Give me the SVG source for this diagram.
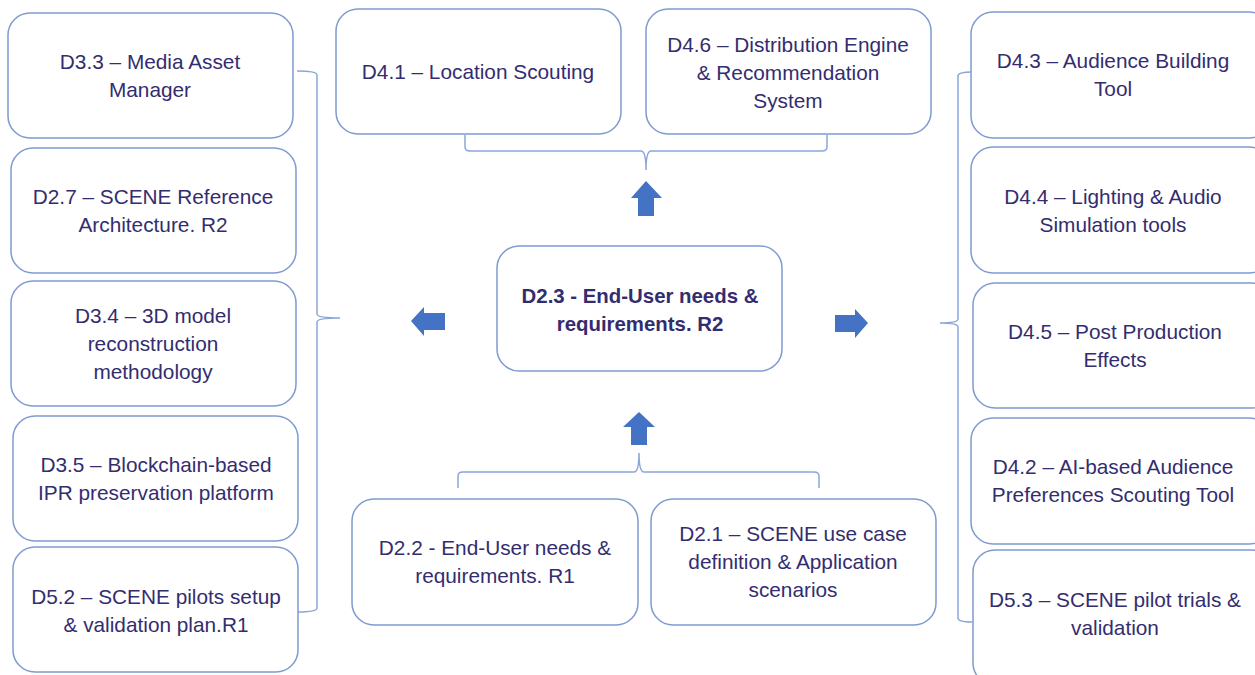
<svg xmlns="http://www.w3.org/2000/svg" width="1255" height="675" viewBox="0 0 1255 675">
<style>
.box{fill:#fff;stroke:#7F9BD0;stroke-width:1.5}
.t{font-family:"Liberation Sans",Arial,sans-serif;font-size:20.8px;fill:#332D6F;text-anchor:middle}
.b{font-weight:bold;font-size:20.4px}
.br{fill:none;stroke:#8AA6DA;stroke-width:1.5}
.ar{fill:#4472C4}
</style>
<rect width="1255" height="675" fill="#fff"/>
<g id="connectors">
<path class="br" d="M297,71 Q317,71 317,75 V314 Q317,318 340,318 Q317,318 317,322 V608 Q317,612 297,612"/>
<path class="br" d="M972,72 Q958,72 958,76 V319 Q958,323 940,323 Q958,323 958,327 V618 Q958,622 972,622"/>
<path class="br" d="M465,135 V147 Q465,151 470,151 H641 Q646,151 646,170 Q646,151 651,151 H822 Q827,151 827,147 V135"/>
<path class="br" d="M458,488 V476 Q458,472 463,472 H634 Q639,472 639,453 Q639,472 644,472 H814 Q819,472 819,476 V488"/>
<polygon class="ar" points="646,181 662,198 654,198 654,216 638,216 638,198 631,198"/>
<polygon class="ar" points="639,412 655,427 647,427 647,445 631,445 631,427 623,427"/>
<polygon class="ar" points="411,321 424,307 424,313 445,313 445,330 424,330 424,336"/>
<polygon class="ar" points="868,323 855,309 855,315 835,315 835,332 855,332 855,338"/>
</g>
<g id="d33"><rect class="box" x="8" y="13" width="285" height="125" rx="22"/><text class="t" x="150" y="69">D3.3 – Media Asset</text><text class="t" x="150" y="97">Manager</text></g>
<g id="d27"><rect class="box" x="11" y="148" width="285" height="125" rx="22"/><text class="t" x="153" y="204">D2.7 – SCENE Reference</text><text class="t" x="153" y="232">Architecture. R2</text></g>
<g id="d34"><rect class="box" x="11" y="281" width="285" height="125" rx="22"/><text class="t" x="153" y="323">D3.4 – 3D model</text><text class="t" x="153" y="351">reconstruction</text><text class="t" x="153" y="379">methodology</text></g>
<g id="d35"><rect class="box" x="13" y="416" width="285" height="125" rx="22"/><text class="t" x="156" y="472">D3.5 – Blockchain-based</text><text class="t" x="156" y="500">IPR preservation platform</text></g>
<g id="d52"><rect class="box" x="13" y="547" width="285" height="125" rx="22"/><text class="t" x="156" y="604">D5.2 – SCENE pilots setup</text><text class="t" x="156" y="632">&amp; validation plan.R1</text></g>
<g id="d41"><rect class="box" x="336" y="9" width="285" height="125" rx="22"/><text class="t" x="478" y="79">D4.1 – Location Scouting</text></g>
<g id="d46"><rect class="box" x="646" y="9" width="285" height="125" rx="22"/><text class="t" x="788" y="52">D4.6 – Distribution Engine</text><text class="t" x="788" y="80">&amp; Recommendation</text><text class="t" x="788" y="108">System</text></g>
<g id="d23"><rect class="box" x="497" y="246" width="285" height="125" rx="22"/><text class="t b" x="640" y="303">D2.3 - End-User needs &amp;</text><text class="t b" x="640" y="331">requirements. R2</text></g>
<g id="d22"><rect class="box" x="352" y="499" width="286" height="126" rx="22"/><text class="t" x="495" y="555">D2.2 - End-User needs &amp;</text><text class="t" x="495" y="583">requirements. R1</text></g>
<g id="d21"><rect class="box" x="651" y="499" width="285" height="126" rx="22"/><text class="t" x="793" y="541">D2.1 – SCENE use case</text><text class="t" x="793" y="569">definition &amp; Application</text><text class="t" x="793" y="597">scenarios</text></g>
<g id="d43"><rect class="box" x="971" y="12" width="300" height="126" rx="22"/><text class="t" x="1113" y="68">D4.3 – Audience Building</text><text class="t" x="1113" y="96">Tool</text></g>
<g id="d44"><rect class="box" x="971" y="147" width="300" height="126" rx="22"/><text class="t" x="1113" y="204">D4.4 – Lighting &amp; Audio</text><text class="t" x="1113" y="232">Simulation tools</text></g>
<g id="d45"><rect class="box" x="973" y="283" width="300" height="125" rx="22"/><text class="t" x="1115" y="339">D4.5 – Post Production</text><text class="t" x="1115" y="367">Effects</text></g>
<g id="d42"><rect class="box" x="971" y="418" width="300" height="126" rx="22"/><text class="t" x="1113" y="474">D4.2 – AI-based Audience</text><text class="t" x="1113" y="502">Preferences Scouting Tool</text></g>
<g id="d53"><rect class="box" x="973" y="550" width="300" height="135" rx="22"/><text class="t" x="1115" y="607">D5.3 – SCENE pilot trials &amp;</text><text class="t" x="1115" y="635">validation</text></g>
</svg>
